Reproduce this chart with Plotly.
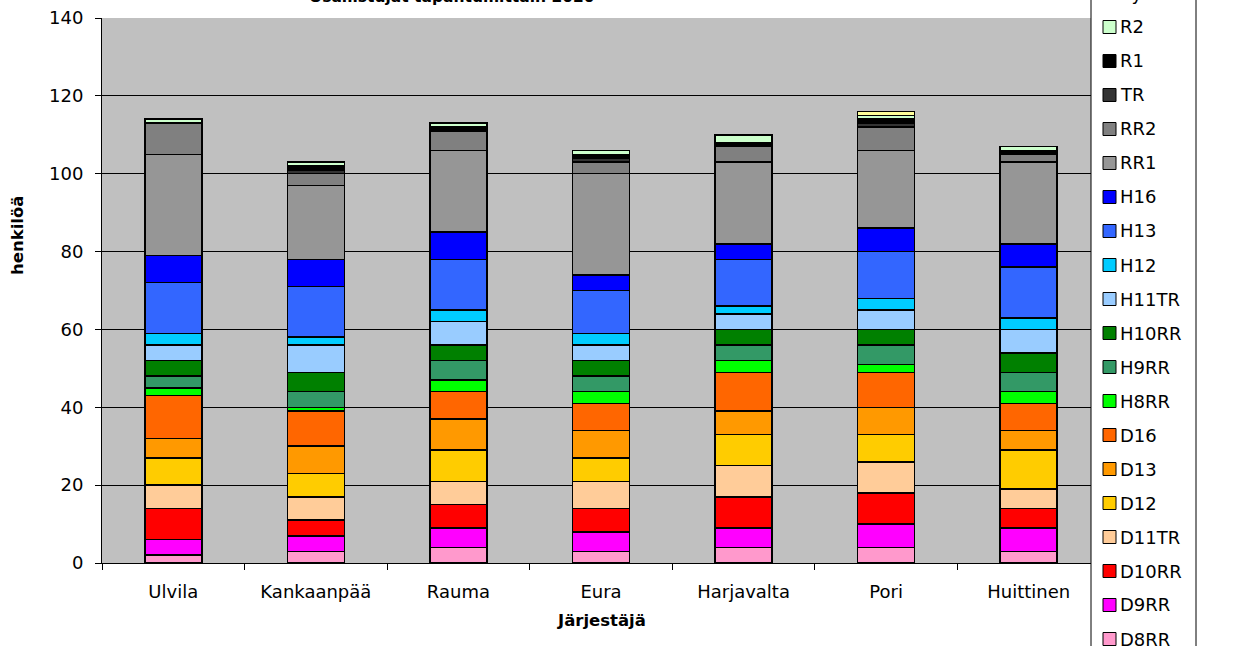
import plotly.graph_objects as go

categories = ["Ulvila", "Kankaanpää", "Rauma", "Eura", "Harjavalta", "Pori", "Huittinen"]

D8RR = [2, 3, 4, 3, 4, 4, 3]
D9RR = [4, 4, 5, 5, 5, 6, 6]
D10RR = [8, 4, 6, 6, 8, 8, 5]
D11TR = [6, 6, 6, 7, 8, 8, 5]
D12 = [7, 6, 8, 6, 8, 7, 10]
D13 = [5, 7, 8, 7, 6, 7, 5]
D16 = [11, 9, 7, 7, 10, 9, 7]
H8RR = [2, 1, 3, 3, 3, 2, 3]
H9RR = [3, 4, 5, 4, 4, 5, 5]
H10RR = [4, 5, 4, 4, 4, 4, 5]
H11TR = [4, 7, 6, 4, 4, 5, 6]
H12 = [3, 2, 3, 3, 2, 3, 3]
H13 = [13, 13, 13, 11, 12, 12, 13]
H16 = [7, 7, 7, 4, 4, 6, 6]
RR1 = [26, 19, 21, 26, 21, 20, 21]
RR2 = [8, 3, 5, 3, 4, 6, 2]
TR = [0, 1, 0, 1, 0, 1, 0]
R1 = [0, 1, 1, 1, 1, 1, 1]
R2 = [1, 1, 1, 1, 2, 1, 1]
RYHMA = [0, 0, 0, 0, 0, 1, 0]

series_names = ["D8RR", "D9RR", "D10RR", "D11TR", "D12", "D13", "D16",
                "H8RR", "H9RR", "H10RR", "H11TR", "H12", "H13", "H16",
                "RR1", "RR2", "TR", "R1", "R2", "Ryhmä"]
series_values = [D8RR, D9RR, D10RR, D11TR, D12, D13, D16,
                 H8RR, H9RR, H10RR, H11TR, H12, H13, H16,
                 RR1, RR2, TR, R1, R2, RYHMA]
series_colors = ["#FF99CC", "#FF00FF", "#FF0000", "#FFCC99", "#FFCC00", "#FF9900", "#FF6600",
                 "#00FF00", "#339966", "#008000", "#99CCFF", "#00CCFF", "#3366FF", "#0000FF",
                 "#969696", "#808080", "#333333", "#000000", "#CCFFCC", "#FFFF99"]

y_ticks = [0, 20, 40, 60, 80, 100, 120, 140]

title_text = "Osallistujat tapahtumittain 2020"
x_title = "Järjestäjä"
y_title = "henkilöä"

W, H = 1256, 646
PL, PR, PT, PB = 102, 1100, 18, 563
FONT = "DejaVu Sans"


def px(x):
    return (x - PL) / (PR - PL)


def py(y):
    return (PB - y) / (PB - PT)


fig = go.Figure()
for name, vals, col in zip(series_names, series_values, series_colors):
    fig.add_trace(go.Bar(
        x=categories,
        y=[v if v else None for v in vals],
        name=name,
        marker=dict(color=col, line=dict(color="black", width=1.5)),
        width=0.4,
        showlegend=False,
    ))

shapes = []
annotations = []

# legend box
shapes.append(dict(type="rect", xref="paper", yref="paper",
                   x0=px(1091), x1=px(1196), y0=py(660), y1=py(-10),
                   fillcolor="white", line=dict(color="black", width=1), layer="above"))
step = 34.0
top_center = 27 - step
for i, (name, col) in enumerate(zip(series_names[::-1], series_colors[::-1])):
    cy = top_center + i * step
    shapes.append(dict(type="rect", xref="paper", yref="paper",
                       x0=px(1103), x1=px(1116), y0=py(cy + 6.5), y1=py(cy - 6.5),
                       fillcolor=col, line=dict(color="black", width=1), layer="above"))
    annotations.append(dict(x=px(1118), y=py(cy), xref="paper", yref="paper",
                            text=name, showarrow=False, xanchor="left", yanchor="middle",
                            font=dict(family=FONT, size=18, color="black")))

annotations.append(dict(x=px(452), y=py(-3), xref="paper", yref="paper",
                        text="<b>" + title_text + "</b>", showarrow=False,
                        xanchor="center", yanchor="middle",
                        font=dict(family=FONT, size=15.5, color="black")))
annotations.append(dict(x=px(601), y=py(620), xref="paper", yref="paper",
                        text="<b>" + x_title + "</b>", showarrow=False,
                        xanchor="center", yanchor="middle",
                        font=dict(family=FONT, size=16.5, color="black")))
annotations.append(dict(x=px(17), y=py(236), xref="paper", yref="paper",
                        text="<b>" + y_title + "</b>", showarrow=False, textangle=-90,
                        xanchor="center", yanchor="middle",
                        font=dict(family=FONT, size=16.5, color="black")))

fig.update_layout(
    width=W, height=H,
    margin=dict(l=PL, r=W - PR, t=PT, b=H - PB, pad=0, autoexpand=False),
    barmode="stack",
    plot_bgcolor="#C0C0C0",
    paper_bgcolor="white",
    font=dict(family=FONT, size=18, color="black"),
    shapes=shapes,
    annotations=annotations,
    showlegend=False,
)
fig.update_xaxes(
    type="category", showline=True, linecolor="black", linewidth=1,
    ticks="outside", ticklen=6, tickcolor="black", tickson="boundaries",
    showgrid=False, ticklabelstandoff=12, automargin=False,
    tickfont=dict(family=FONT, size=18, color="black"),
)
fig.update_yaxes(
    range=[0, 140], tickvals=y_ticks, showline=True, linecolor="black", linewidth=1,
    ticks="outside", ticklen=6, tickcolor="black",
    showgrid=True, gridcolor="black", gridwidth=1, zeroline=False,
    ticklabelstandoff=8, automargin=False,
    tickfont=dict(family=FONT, size=18, color="black"),
)

fig.write_html("out.html",
               config={"displayModeBar": False},
               post_script="document.body.style.margin='0';document.body.style.overflow='hidden';")
